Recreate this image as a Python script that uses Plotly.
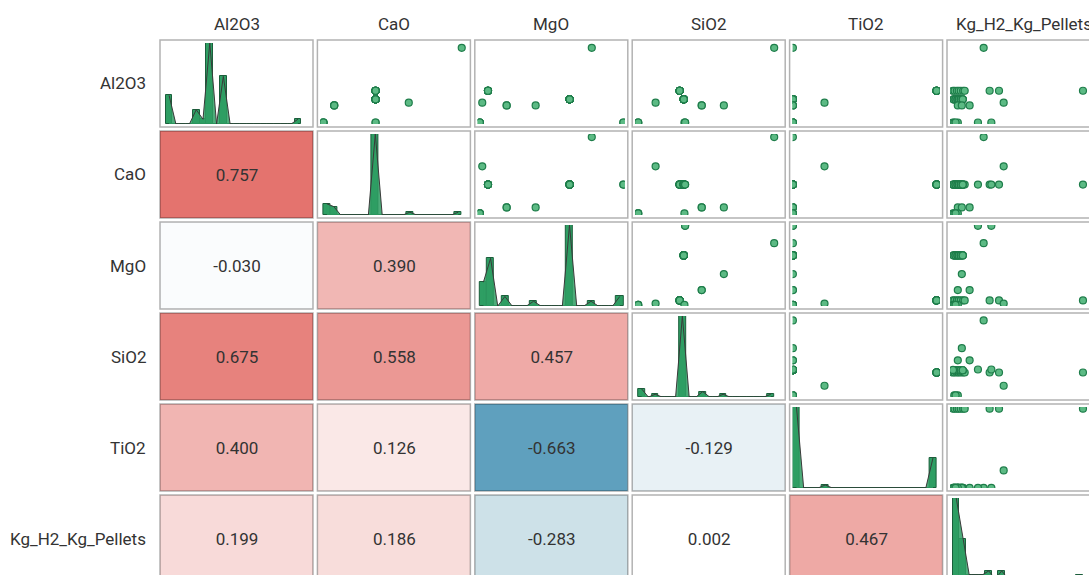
import numpy as np
import plotly.graph_objects as go

variables = ["Al2O3", "CaO", "MgO", "SiO2", "TiO2", "Kg_H2_Kg_Pellets"]

# 38 samples (in axis-relative units)
al2o3 = [1.000,
         0.425, 0.425, 0.425, 0.425, 0.425, 0.425, 0.425, 0.425, 0.425, 0.425,
         0.310, 0.310, 0.310, 0.310, 0.310, 0.310, 0.310, 0.310, 0.310, 0.310,
         0.310, 0.310, 0.310, 0.310, 0.310, 0.310, 0.310,
         0.266,
         0.229, 0.229, 0.229,
         0.000, 0.000, 0.000, 0.000,
         0.000, 0.000]
cao = [1.000,
       0.377, 0.377, 0.377, 0.377, 0.377, 0.377, 0.377, 0.377, 0.377, 0.377,
       0.377, 0.377, 0.377, 0.377, 0.377, 0.377, 0.377, 0.377, 0.377, 0.377,
       0.377, 0.377, 0.377, 0.377, 0.377, 0.377, 0.377,
       0.617,
       0.078, 0.078, 0.078,
       0.000, 0.000, 0.000, 0.000,
       0.377, 0.377]
mgo = [0.780,
       0.057, 0.057, 0.057, 0.057, 0.057, 0.057, 0.057, 0.057, 0.057, 0.057,
       0.626, 0.626, 0.626, 0.626, 0.626, 0.626, 0.626, 0.626, 0.626, 0.626,
       0.626, 0.626, 0.626, 0.626, 0.626, 0.626, 0.626,
       0.017,
       0.187, 0.187, 0.389,
       0.000, 0.000, 0.000, 0.000,
       1.000, 1.000]
sio2 = [1.000,
        0.305, 0.305, 0.305, 0.305, 0.305, 0.305, 0.305, 0.305, 0.305, 0.305,
        0.335, 0.335, 0.335, 0.335, 0.335, 0.335, 0.335, 0.335, 0.335, 0.335,
        0.335, 0.335, 0.335, 0.335, 0.335, 0.335, 0.335,
        0.128,
        0.467, 0.467, 0.630,
        0.340, 0.000, 0.000, 0.000,
        0.345, 0.345]
tio2 = [0.000,
        1.000, 1.000, 1.000, 1.000, 1.000, 1.000, 1.000, 1.000, 1.000, 1.000,
        0.000, 0.000, 0.000, 0.000, 0.000, 0.000, 0.000, 0.000, 0.000, 0.000,
        0.000, 0.000, 0.000, 0.000, 0.000, 0.000, 0.000,
        0.220,
        0.000, 0.000, 0.000,
        0.000, 0.000, 0.000, 0.000,
        0.000, 0.000]
kg_h2 = [0.236,
         0.000, 0.012, 0.030, 0.044, 0.060, 0.078, 0.090, 0.282, 0.354, 1.000,
         0.005, 0.005, 0.005, 0.020, 0.020, 0.020, 0.035, 0.035, 0.035, 0.045,
         0.045, 0.060, 0.060, 0.060, 0.075, 0.075, 0.075,
         0.390,
         0.037, 0.128, 0.068,
         0.000, 0.037, 0.010, 0.020,
         0.192, 0.295]

columns = [al2o3, cao, mgo, sio2, tio2, kg_h2]

# correlation coefficients (lower triangle, as printed)
corr_rows = [
    [],
    [0.757],
    [-0.030, 0.390],
    [0.675, 0.558, 0.457],
    [0.400, 0.126, -0.663, -0.129],
    [0.199, 0.186, -0.283, 0.002, 0.467],
]

# display ranges per variable
axis_ranges = [[-0.020, 1.064], [-0.022, 1.041], [-0.014, 1.010],
               [-0.022, 1.059], [-0.002, 1.021], [-0.023, 1.108]]
n_bins = 20

W, H = 1110, 592
col_left0, col_pitch, cell_w = 160.0, 157.4, 153.0
row_top0, row_pitch, cell_h = 40.0, 91.0, 87.0
inset = 3.0

colorscale = [[0.0, "rgb(5,102,153)"], [0.1685, "rgb(95,160,190)"],
              [0.3585, "rgb(205,225,232)"], [0.5, "rgb(255,255,255)"],
              [1.0, "rgb(219,70,63)"]]
green_fill = "rgb(92,186,132)"
green_line = "#1e7d4a"
hist_green = "#2e9e63"
border_col = "rgba(0,0,0,0.3)"
text_col = "#333333"
font_family = "Roboto, 'Noto Sans', sans-serif"
fs = 17

fig = go.Figure()
shapes, annotations = [], []
lay = {}

for i in range(6):
    for j in range(6):
        k = i * 6 + j + 1
        xa = "x" if k == 1 else f"x{k}"
        ya = "y" if k == 1 else f"y{k}"
        xl = "xaxis" if k == 1 else f"xaxis{k}"
        yl = "yaxis" if k == 1 else f"yaxis{k}"
        L = col_left0 + j * col_pitch
        R = L + cell_w
        T = row_top0 + i * row_pitch
        B = T + cell_h
        ins = 0.0 if i > j else inset
        xdom = [(L + ins) / W, (R - ins) / W]
        ydom = [1 - (B - ins) / H, 1 - (T + ins) / H]
        ax_common = dict(visible=False, showgrid=False, zeroline=False, fixedrange=True)
        if i > j:
            r = corr_rows[i][j]
            fig.add_trace(go.Heatmap(
                z=[[r]], x=[0.5], y=[0.5], zmin=-1, zmax=1, colorscale=colorscale,
                showscale=False, text=[[f"{r:.3f}"]], texttemplate="%{text}",
                textfont=dict(size=fs, color=text_col, family=font_family),
                hoverinfo="skip", xaxis=xa, yaxis=ya))
            lay[xl] = dict(domain=xdom, range=[0, 1], anchor=ya, **ax_common)
            lay[yl] = dict(domain=ydom, range=[0, 1], anchor=xa, **ax_common)
        elif i == j:
            vals = np.array(columns[j])
            counts, edges = np.histogram(vals, bins=n_bins, range=(vals.min(), vals.max()))
            centers = (edges[:-1] + edges[1:]) / 2
            bw = edges[1] - edges[0]
            fig.add_trace(go.Bar(x=centers, y=counts, width=bw,
                                 marker=dict(color=hist_green, line=dict(color="#1b5e3b", width=1)),
                                 hoverinfo="skip", xaxis=xa, yaxis=ya))
            fig.add_trace(go.Scatter(x=centers, y=counts, mode="lines",
                                     fill="tozeroy", fillcolor="rgba(46,158,99,0.85)",
                                     line=dict(color="#3a3a3a", width=1),
                                     hoverinfo="skip", xaxis=xa, yaxis=ya))
            lay[xl] = dict(domain=xdom, range=axis_ranges[j], anchor=ya, **ax_common)
            lay[yl] = dict(domain=ydom, range=[0, counts.max()], anchor=xa, **ax_common)
        else:
            fig.add_trace(go.Scatter(x=columns[j], y=columns[i], mode="markers",
                                     marker=dict(size=7, color=green_fill,
                                                 line=dict(color=green_line, width=1.2)),
                                     hoverinfo="skip", xaxis=xa, yaxis=ya))
            lay[xl] = dict(domain=xdom, range=axis_ranges[j], anchor=ya, **ax_common)
            lay[yl] = dict(domain=ydom, range=axis_ranges[i], anchor=xa, **ax_common)
        shapes.append(dict(type="rect", xref="paper", yref="paper",
                           x0=L / W, x1=R / W, y0=1 - B / H, y1=1 - T / H,
                           line=dict(color=border_col, width=1.5), layer="above"))

for j, name in enumerate(variables):
    L = col_left0 + j * col_pitch
    annotations.append(dict(text=name, xref="paper", yref="paper",
                            x=(L + cell_w / 2) / W, y=1 - 24 / H, showarrow=False,
                            xanchor="center", yanchor="middle",
                            font=dict(size=fs, color=text_col, family=font_family)))
for i, name in enumerate(variables):
    T = row_top0 + i * row_pitch
    annotations.append(dict(text=name, xref="paper", yref="paper",
                            x=148 / W, y=1 - (T + cell_h / 2) / H, showarrow=False,
                            xanchor="right", yanchor="middle",
                            font=dict(size=fs, color=text_col, family=font_family)))

fig.update_layout(width=W, height=H, margin=dict(l=0, r=0, t=0, b=0),
                  paper_bgcolor="white", plot_bgcolor="white", showlegend=False,
                  bargap=0, shapes=shapes, annotations=annotations,
                  font=dict(family=font_family), **lay)

fig.write_html("out.html", config={"displayModeBar": False},
               post_script="document.body.style.margin='0';document.body.style.overflow='hidden';"
                           "document.documentElement.style.overflow='hidden';")
